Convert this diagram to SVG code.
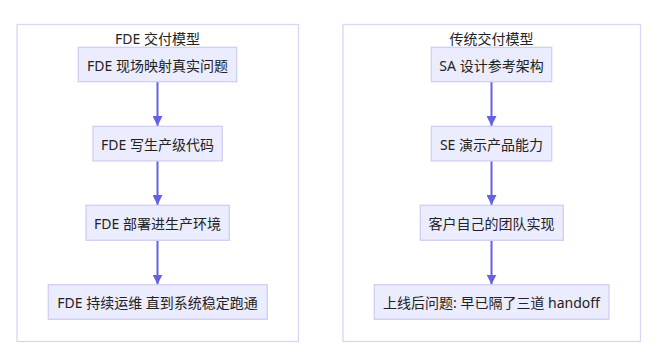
<svg xmlns="http://www.w3.org/2000/svg" width="659" height="361" viewBox="0 0 659 361">
<style>
.cluster rect{fill:#ffffff;stroke:#d6d6f5;stroke-width:1.3}
.node rect{fill:#ececff;stroke:#cfcff3;stroke-width:1.3}
text{font-family:"Noto Sans","Noto Sans CJK SC",sans-serif;font-size:14px;fill:#222222;text-anchor:middle}
.edge{stroke:#6262e2;stroke-width:2;fill:none}
</style>
<defs>
<marker id="arr" viewBox="0 0 10 10" refX="10" refY="5" markerWidth="10" markerHeight="10" markerUnits="userSpaceOnUse" orient="auto">
<path d="M0,0 L10,5 L0,10 z" fill="#6262e2"/>
</marker>
</defs>
<rect width="659" height="361" fill="#ffffff"/>
<g id="cluster-fde" class="cluster">
<rect x="17" y="24.5" width="281.5" height="317"/>
<text x="157.5" y="44">FDE 交付模型</text>
</g>
<g id="cluster-trad" class="cluster">
<rect x="343" y="24.5" width="297.5" height="317"/>
<text x="491.5" y="44">传统交付模型</text>
</g>
<g id="connectors">
<line class="edge" x1="157.5" y1="81.5" x2="157.5" y2="126" marker-end="url(#arr)"/>
<line class="edge" x1="157.5" y1="161" x2="157.5" y2="205" marker-end="url(#arr)"/>
<line class="edge" x1="157.5" y1="240" x2="157.5" y2="284.5" marker-end="url(#arr)"/>
<line class="edge" x1="491.5" y1="81.5" x2="491.5" y2="126" marker-end="url(#arr)"/>
<line class="edge" x1="491.5" y1="161" x2="491.5" y2="205" marker-end="url(#arr)"/>
<line class="edge" x1="491.5" y1="240" x2="491.5" y2="284.5" marker-end="url(#arr)"/>
</g>
<g id="f1" class="node"><rect x="78.3" y="47.3" width="158.4" height="34.4"/><text x="157.5" y="71">FDE 现场映射真实问题</text></g>
<g id="f2" class="node"><rect x="93" y="126.3" width="129.3" height="34.6"/><text x="157.5" y="150">FDE 写生产级代码</text></g>
<g id="f3" class="node"><rect x="86" y="205.3" width="143.3" height="35"/><text x="157.5" y="229">FDE 部署进生产环境</text></g>
<g id="f4" class="node"><rect x="48.3" y="284.7" width="219" height="34.6"/><text x="157.5" y="308.3">FDE 持续运维 直到系统稳定跑通</text></g>
<g id="t1" class="node"><rect x="431.3" y="47.3" width="120.4" height="34.4"/><text x="491.5" y="71">SA 设计参考架构</text></g>
<g id="t2" class="node"><rect x="431.3" y="126.3" width="120.4" height="34.6"/><text x="491.5" y="150">SE 演示产品能力</text></g>
<g id="t3" class="node"><rect x="420.3" y="205.3" width="143" height="35"/><text x="491.5" y="229">客户自己的团队实现</text></g>
<g id="t4" class="node"><rect x="374.3" y="284.7" width="234.7" height="34.6"/><text x="491.5" y="308.3">上线后问题: 早已隔了三道 handoff</text></g>
</svg>
